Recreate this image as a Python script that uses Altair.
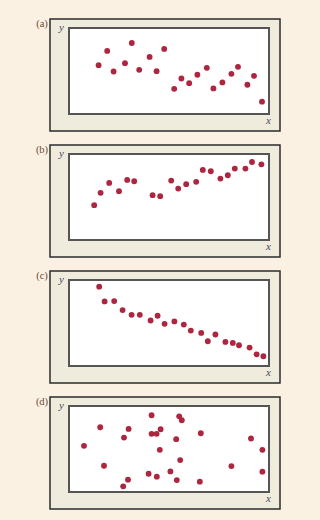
import altair as alt
import pandas as pd

# Panel (a)
a_x = [14.8, 19.1, 22.3, 28.0, 31.4, 35.1, 40.3, 43.8, 47.6, 52.6, 56.2, 60.1, 64.2, 68.9, 72.2, 76.7, 81.2, 84.5, 89.2, 92.5, 96.5]
a_y = [56.8, 73.4, 49.4, 59.1, 82.6, 51.4, 66.4, 49.8, 75.7, 29.3, 41.3, 35.9, 45.6, 53.7, 29.7, 36.7, 46.7, 54.8, 34.0, 44.4, 14.3]
# Panel (b)
b_x = [12.6, 15.8, 20.1, 25.0, 29.1, 32.6, 41.8, 45.6, 51.1, 54.6, 58.6, 63.6, 66.9, 70.9, 75.7, 79.4, 82.9, 88.2, 91.5, 96.2]
b_y = [40.5, 54.8, 66.4, 56.8, 69.9, 68.3, 52.1, 51.0, 69.1, 59.8, 64.9, 67.6, 81.5, 79.9, 71.4, 75.3, 83.0, 83.0, 90.7, 88.0]
# Panel (c)
c_x = [15.1, 17.8, 22.6, 26.8, 31.3, 35.4, 40.8, 44.3, 47.8, 52.7, 57.4, 60.9, 66.1, 69.4, 73.2, 78.2, 81.9, 85.0, 90.3, 93.8, 97.2]
c_y = [92.2, 75.1, 75.5, 65.0, 59.5, 59.5, 52.9, 58.4, 49.0, 51.8, 48.2, 41.2, 38.5, 28.8, 36.6, 28.0, 26.8, 24.1, 21.4, 13.6, 11.3]
# Panel (d)
d_x = [7.5, 15.6, 17.5, 27.5, 29.8, 29.5, 27.1, 41.3, 41.3, 43.8, 45.8, 45.4, 39.8, 43.9, 50.7, 53.9, 53.6, 55.1, 56.4, 55.6, 65.9, 65.4, 81.2, 91.0, 96.7, 96.7]
d_y = [53.7, 75.3, 30.5, 63.3, 73.4, 14.3, 6.6, 89.2, 67.6, 67.6, 73.0, 49.0, 21.2, 17.8, 23.9, 13.9, 61.4, 88.0, 83.4, 37.1, 68.3, 12.0, 30.1, 62.2, 49.0, 23.6]

labels = ["(a)", "(b)", "(c)", "(d)"]
series = [(a_x, a_y), (b_x, b_y), (c_x, c_y), (d_x, d_y)]

W, H = 200, 86
one = pd.DataFrame({"k": [0]})


def panel(label, xs, ys):
    frame = alt.Chart(one).mark_rect(opacity=0).encode(
        x=alt.value(-69), x2=alt.value(251), y=alt.value(-28), y2=alt.value(H + 28)
    )
    outer = alt.Chart(one).mark_rect(
        fill="#EFECDE", stroke="#2b2b2b", strokeWidth=1.5
    ).encode(x=alt.value(-19), x2=alt.value(211), y=alt.value(-9), y2=alt.value(103))
    inner = alt.Chart(one).mark_rect(
        fill="white", stroke="#555555", strokeWidth=2
    ).encode(x=alt.value(0), x2=alt.value(W), y=alt.value(0), y2=alt.value(H))
    lab = alt.Chart(pd.DataFrame({"t": [label]})).mark_text(
        font="Liberation Serif", fontSize=10.5, color="#6b4a33", align="center", baseline="alphabetic"
    ).encode(x=alt.value(-27), y=alt.value(-1), text="t:N")
    ylab = alt.Chart(pd.DataFrame({"t": ["y"]})).mark_text(
        font="Liberation Serif", fontSize=11, fontStyle="italic", color="#4a4a5a", align="center", baseline="alphabetic"
    ).encode(x=alt.value(-7.5), y=alt.value(3), text="t:N")
    xlab = alt.Chart(pd.DataFrame({"t": ["x"]})).mark_text(
        font="Liberation Serif", fontSize=11, fontStyle="italic", color="#4a4a5a", align="center", baseline="alphabetic"
    ).encode(x=alt.value(199.5), y=alt.value(95.5), text="t:N")
    df = pd.DataFrame({"x": xs, "y": ys})
    pts = alt.Chart(df).mark_circle(size=34, color="#AE2540", opacity=1).encode(
        x=alt.X("x:Q", scale=alt.Scale(domain=[0, 100]), axis=None),
        y=alt.Y("y:Q", scale=alt.Scale(domain=[0, 100]), axis=None),
    )
    return alt.layer(frame, outer, inner, lab, ylab, xlab, pts).properties(width=W, height=H)


chart = alt.vconcat(
    *[panel(l, xs, ys) for l, (xs, ys) in zip(labels, series)],
    spacing=40,
    bounds="flush",
).properties(
    background="#FBF1E3",
    padding=0,
).configure_view(stroke=None)

chart.save("out.html", embed_options={"renderer": "svg", "actions": False})
